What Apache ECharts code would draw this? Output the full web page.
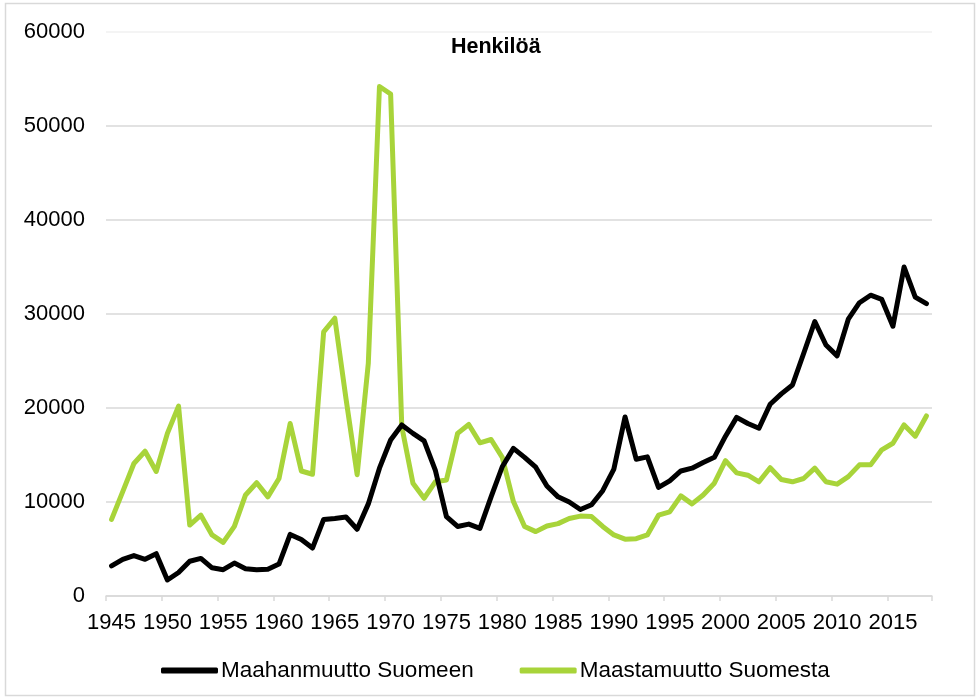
<!DOCTYPE html>
<html>
<head>
<meta charset="utf-8">
<title>Henkilöä</title>
<script src="https://cdn.jsdelivr.net/npm/echarts@6/dist/echarts.min.js"></script>
<style>
  html, body { margin: 0; padding: 0; background: #ffffff; }
  #chart { width: 980px; height: 700px; }
</style>
</head>
<body>
<div id="chart"></div>
<script>
  const years = [];
  for (let y = 1945; y <= 2018; y++) years.push(String(y));

  const immigration = [
    3200, 3900, 4300, 3900, 4500, 1700, 2500, 3700, 4000, 3000,
    2800, 3500, 2900, 2800, 2850, 3400, 6550, 6000, 5100, 8150,
    8250, 8400, 7100, 9800, 13600, 16600, 18200, 17300, 16500, 13400,
    8450, 7400, 7650, 7200, 10550, 13750, 15700, 14750, 13700, 11700,
    10550, 10000, 9200, 9700, 11200, 13500, 19050, 14550, 14800, 11550,
    12250, 13300, 13600, 14200, 14750, 17000, 19000, 18350, 17850, 20400,
    21500, 22450, 25800, 29200, 26700, 25550, 29450, 31200, 32000, 31550,
    28700, 35000, 31800, 31100
  ];

  const emigration = [
    8150, 11100, 14100, 15400, 13250, 17300, 20200, 7550, 8600, 6500,
    5700, 7400, 10750, 12050, 10550, 12500, 18350, 13300, 12950, 28100,
    29550, 21000, 12900, 24750, 54200, 53400, 18000, 12000, 10400, 12150,
    12350, 17300, 18250, 16300, 16650, 14750, 10050, 7400, 6850, 7450,
    7700, 8250, 8500, 8450, 7400, 6500, 6050, 6100, 6500, 8600,
    8950, 10650, 9800, 10750, 12000, 14400, 13100, 12850, 12150, 13650,
    12400, 12150, 12500, 13600, 12150, 11900, 12700, 13950, 13950, 15550,
    16250, 18200, 17000, 19150
  ];

  const seriesNames = ["Maahanmuutto Suomeen", "Maastamuutto Suomesta"];
  const textFont = "'Liberation Sans', Arial, sans-serif";

  const chart = echarts.init(document.getElementById("chart"), null, { renderer: "canvas" });

  chart.setOption({
    animation: false,
    backgroundColor: "#ffffff",
    title: {
      text: "Henkilöä",
      left: 446,
      top: 31,
      textStyle: { fontFamily: textFont, fontSize: 21.5, fontWeight: "bold", color: "#000000" }
    },
    graphic: [{
      type: "rect",
      shape: { x: 5.5, y: 3.5, width: 969, height: 692 },
      style: { fill: "none", stroke: "#d9d9d9", lineWidth: 1.5 },
      silent: true
    }],
    legend: {
      data: seriesNames,
      left: 156,
      top: 654,
      icon: "roundRect",
      itemWidth: 57,
      itemHeight: 6,
      itemGap: 46,
      textStyle: { fontFamily: textFont, fontSize: 22.5, color: "#000000", padding: [0, 0, 0, -2] }
    },
    grid: { left: 106, right: 48, top: 32, bottom: 104, containLabel: false },
    xAxis: {
      type: "category",
      data: years,
      boundaryGap: true,
      axisLine: { lineStyle: { color: "#d9d9d9", width: 1.5 } },
      axisTick: { show: true, interval: 4, length: 5, lineStyle: { color: "#d9d9d9", width: 1.5 } },
      axisLabel: { interval: 4, margin: 16, fontFamily: textFont, fontSize: 22, color: "#000000" },
      splitLine: { show: false }
    },
    yAxis: {
      type: "value",
      min: 0,
      max: 60000,
      interval: 10000,
      axisLine: { show: false },
      axisTick: { show: false },
      axisLabel: {
        margin: 21,
        fontFamily: textFont,
        fontSize: 22,
        color: "#000000",
        formatter: (value) => String(value)
      },
      splitLine: {
        lineStyle: {
          color: ["#d9d9d9", "#d9d9d9", "#d9d9d9", "#d9d9d9", "#d9d9d9", "#d9d9d9", "#f1f1f1"],
          width: 1.5
        }
      }
    },
    series: [
      {
        name: seriesNames[0],
        type: "line",
        data: immigration,
        symbol: "none",
        color: "#000000",
        lineStyle: { width: 5, color: "#000000", join: "round", cap: "round" },
        z: 3
      },
      {
        name: seriesNames[1],
        type: "line",
        data: emigration,
        symbol: "none",
        color: "#a8d43a",
        lineStyle: { width: 5, color: "#a8d43a", join: "round", cap: "round" },
        z: 2
      }
    ]
  });
</script>
</body>
</html>
